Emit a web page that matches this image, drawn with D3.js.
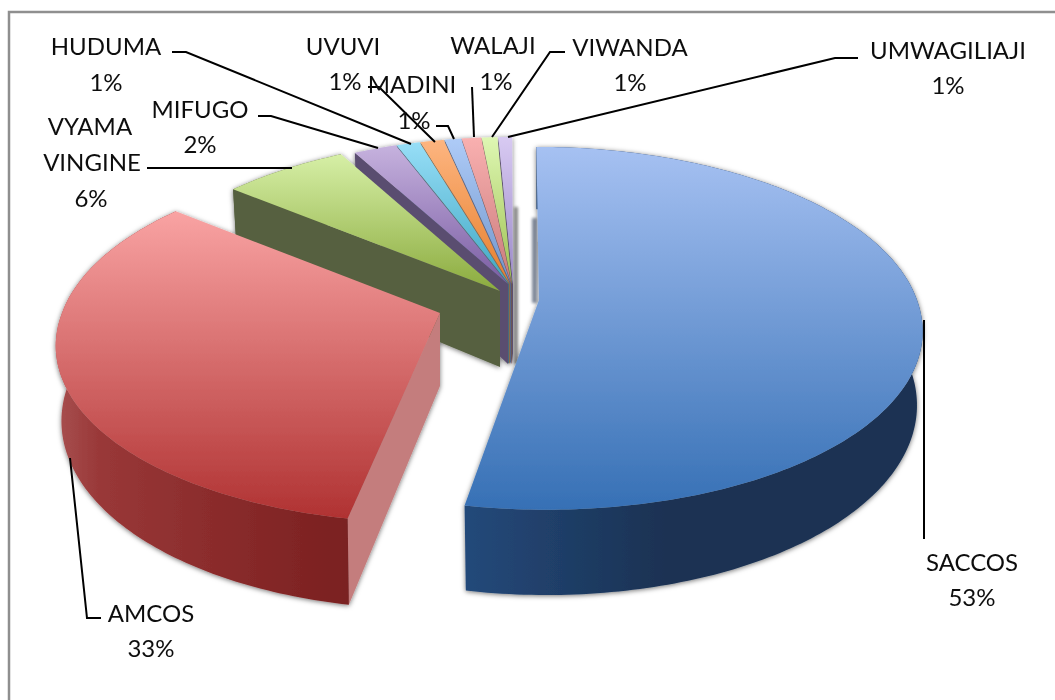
<!DOCTYPE html>
<html><head><meta charset="utf-8">
<script src="https://cdn.jsdelivr.net/npm/d3@7"></script>
<style>html,body{margin:0;background:#fff}svg{display:block}text{font-family:Lato,"Open Sans",sans-serif;fill:#111}</style>
</head><body><svg id="c" width="1055" height="700"></svg>
<script>
// ---- data ----
const categories=["SACCOS","AMCOS","VYAMA VINGINE","MIFUGO","HUDUMA","UVUVI","MADINI","WALAJI","VIWANDA","UMWAGILIAJI"];
const values=[53,33,6.2,2.2,1.2,1.2,0.85,1,0.8,0.7];
const percentLabels=["53%","33%","6%","2%","1%","1%","1%","1%","1%","1%"];
// ---- style / layout ----
const topColors=[["#a6c1f2","#3670b5"],["#f9a3a3","#b03232"],["#d6efa6","#8bab3e"],["#c6b2de","#7a5ca3"],["#97def7","#3ea6c2"],["#fdb580","#e77f2c"],["#aecbf7","#7095cb"],["#f9b0b0","#c87a7a"],["#def7b3","#9dc050"],["#d8caf2","#9a88c8"]];
const wallColors=[["#24497a","#1a3253"],["#a85050","#993838","#8c2d2d","#7a2020"],["#566040","#566040"],["#5a4d70","#5a4d70"],["#3f6a78","#3f6a78"],["#7a5a3a","#7a5a3a"],["#4f5f80","#4f5f80"],["#6c5058","#6c5058"],["#5a6a40","#5a6a40"],["#5a5070","#5a5070"]];
const faceColors=["#2a4a78","#c47d7d","#566040","#5a4d70","#4a6a7a","#8a6a4a","#556688","#705058","#665a50","#5c5070"];
const apexX=[539,440,500,508,509,510,511,511.5,512,513];
const apexY=[300,313,291,284,284,284,284,284,284,284];
const radiusScale=[1,1,1,0.96,0.96,0.96,0.96,0.96,0.96,0.96];
const depths=[72,73,76,80,80,80,80,80,80,80];
const RX=378,RY=177,K=0.156,VPX=500,BOTTOM_SHRINK=0.985;
const labelRows=[
 [{t:categories[0],x:972,y:562},{t:percentLabels[0],x:972,y:597}],
 [{t:categories[1],x:151,y:613},{t:percentLabels[1],x:151,y:648}],
 [{t:"VYAMA",x:90,y:126},{t:"VINGINE",x:92,y:162},{t:percentLabels[2],x:91,y:198}],
 [{t:categories[3],x:200,y:109},{t:percentLabels[3],x:200,y:144}],
 [{t:categories[4],x:106,y:46},{t:percentLabels[4],x:106,y:82}],
 [{t:categories[5],x:343,y:46},{t:percentLabels[5],x:345,y:81}],
 [{t:categories[6],x:412,y:84},{t:percentLabels[6],x:414,y:120}],
 [{t:categories[7],x:493,y:45},{t:percentLabels[7],x:496,y:81}],
 [{t:categories[8],x:630,y:47},{t:percentLabels[8],x:630,y:82}],
 [{t:categories[9],x:948,y:50},{t:percentLabels[9],x:948,y:85}]];
const leaders=[
 [[924,320],[924,539]],
 [[70,458],[87,618],[101,618]],
 [[147,168],[292,168]],
 [[258,116],[271,116],[378,148]],
 [[172,52],[186,52],[411,144]],
 [[368,87],[379,87],[435,142]],
 [[436,126],[448,126],[454,139]],
 [[472,87],[474,137]],
 [[565,52],[550,52],[492,137]],
 [[858,58],[835,58],[508,137]]];

const svg=d3.select("#c");
const defs=svg.append("defs");
const fl=defs.append("filter").attr("id","sh").attr("x","-10%").attr("y","-10%").attr("width","120%").attr("height","120%");
fl.append("feDropShadow").attr("dx",0).attr("dy",1).attr("stdDeviation",2.5).attr("flood-color","#000").attr("flood-opacity",.55);
defs.append("filter").attr("id","bl").append("feGaussianBlur").attr("stdDeviation",1.5);
defs.append("filter").attr("id","soft").attr("x","-5%").attr("y","-5%").attr("width","110%").attr("height","110%").append("feGaussianBlur").attr("stdDeviation",.45);

// frame
svg.append("path").attr("d",d3.line()([[9,700],[9,12],[1055,12]])).attr("fill","none").attr("stroke","#8f8f8f").attr("stroke-width",2.5);

const pie=d3.pie().sort(null)(values);
const proj=(i,th,dy=0)=>{const c=Math.cos(th),s=1/(1+K*c),q=radiusScale[i]*(dy?BOTTOM_SHRINK:1);
  const lean=(apexX[i]-VPX)*(s-1)*(c>0?0.5:1);
  return [apexX[i]+q*RX*Math.sin(th)*s+lean, apexY[i]-radiusScale[i]*RY*c*s+dy*s];};
const line=d3.line();
const arcPts=(i,a,b,dy=0)=>d3.range(0,1.0001,1/Math.max(6,Math.ceil((b-a)*60))).map(t=>proj(i,a+(b-a)*t,dy));

// gradients
const yExtent=i=>{const p=arcPts(i,pie[i].startAngle,pie[i].endAngle);return [d3.min(p,d=>d[1]),d3.max(p.concat([[apexX[i],apexY[i]]]),d=>d[1])];};
pie.forEach((d,i)=>{
  const [y0,y1]=yExtent(i);
  const g=defs.append("linearGradient").attr("id","t"+i).attr("gradientUnits","userSpaceOnUse").attr("x1",0).attr("x2",0).attr("y1",y0).attr("y2",y1);
  topColors[i].forEach((c,k)=>g.append("stop").attr("offset",k).attr("stop-color",c));
  const pts=arcPts(i,d.startAngle,d.endAngle);
  const xs=d3.extent(pts,p=>p[0]);
  const w=defs.append("linearGradient").attr("id","w"+i).attr("gradientUnits","userSpaceOnUse").attr("y1",0).attr("y2",0);
  if(i==1){w.attr("x1",xs[0]).attr("x2",xs[1]);} else {w.attr("x1",xs[0]).attr("x2",xs[0]+200);}
  const n=wallColors[i].length-1;
  const offs=n==3?[0,.15,.5,1]:[0,1];
  wallColors[i].forEach((c,k)=>w.append("stop").attr("offset",offs[k]).attr("stop-color",c));
});
const topPath=i=>line([[apexX[i],apexY[i]],...arcPts(i,pie[i].startAngle,pie[i].endAngle)])+"Z";
const wallPath=i=>{const a=pie[i].startAngle,b=pie[i].endAngle;
  return line([...arcPts(i,a,b),...arcPts(i,a,b,depths[i]).reverse()])+"Z";};
const facePath=(i,th)=>{const r=proj(i,th),r2=proj(i,th,depths[i]);
  return line([[apexX[i],apexY[i]],r,r2,[apexX[i],apexY[i]+depths[i]]])+"Z";};

const root=svg.append("g");
// soft shadows behind the gap
const shadow=root.append("g").attr("filter","url(#bl)").attr("fill","#8a8a8a");
shadow.append("path").attr("d",line([[apexX[9]+1,apexY[9]-77],[apexX[9]+5,apexY[9]-77],[apexX[9]+5,apexY[9]+depths[9]],[apexX[9]+1,apexY[9]+depths[9]]])+"Z");
shadow.append("path").attr("d",line([[apexX[0]-7,apexY[0]-82],[apexX[0]-2,apexY[0]-82],[apexX[0]-2,apexY[0]+3],[apexX[0]-7,apexY[0]+3]])+"Z").attr("fill","#7f8899");

const pieG=root.append("g").attr("filter","url(#sh)");
const back=pieG.append("g");
// small slices: cut faces from right to left (left ones sit in front)
d3.range(9,2,-1).forEach(i=>back.append("path").attr("d",facePath(i,pie[i].startAngle)).attr("fill",faceColors[i]));
// vyama vingine cut face and tops
back.append("path").attr("d",wallPath(2)).attr("fill","url(#w2)");
back.append("path").attr("d",facePath(2,pie[2].startAngle)).attr("fill",faceColors[2]);
d3.range(2,10).forEach(i=>back.append("path").attr("d",topPath(i)).attr("fill",`url(#t${i})`));

const mid=pieG.append("g");
// amcos
mid.append("path").attr("d",facePath(1,pie[1].startAngle)).attr("fill",faceColors[1]);
mid.append("path").attr("d",wallPath(1)).attr("fill","url(#w1)");
mid.append("path").attr("d",topPath(1)).attr("fill","url(#t1)");
// saccos
mid.append("path").attr("d",wallPath(0)).attr("fill","url(#w0)");
mid.append("path").attr("d",topPath(0)).attr("fill","url(#t0)");

// leaders
svg.append("g").attr("filter","url(#soft)").selectAll("path").data(leaders).join("path").attr("d",d=>line(d)).attr("fill","none").attr("stroke","#000").attr("stroke-width",2);
// labels
svg.append("g").attr("filter","url(#soft)").selectAll("text").data(labelRows.flat()).join("text")
 .attr("x",d=>d.x).attr("y",d=>d.y).attr("dy","0.36em").attr("text-anchor","middle").attr("font-size",24).text(d=>d.t);
</script></body></html>
